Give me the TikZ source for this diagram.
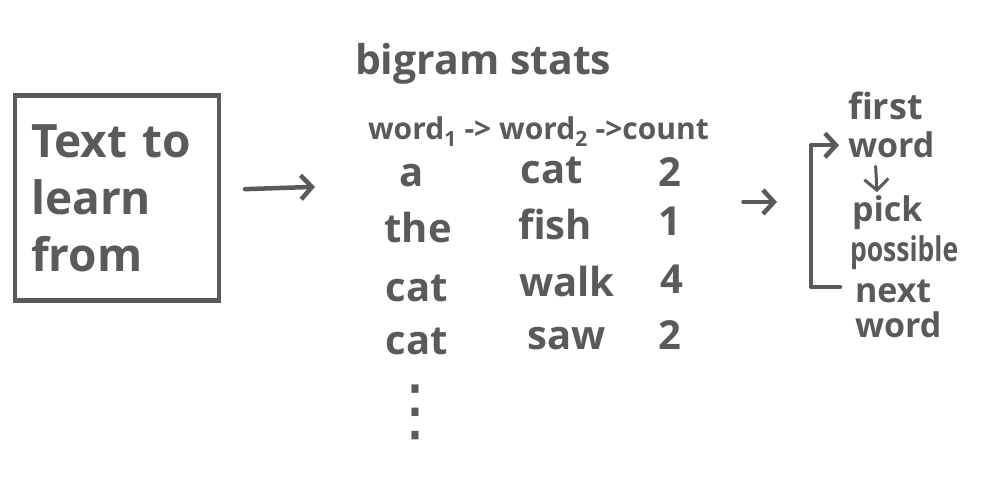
\documentclass[tikz,border=0pt]{standalone}
\usepackage{fontspec}
\setmainfont{Open Sans}
\newfontfamily\symfont{DejaVu Sans}
\usepackage{xcolor}
\usepackage{tikz}
\usetikzlibrary{arrows.meta}
\tikzset{arrow/.style = {-{Straight Barb[length = 11pt, width = 24pt]}, line width = 4.5pt, line cap = round, line join = round}}
\tikzset{hand/.style = {text=drawColor, inner sep=0pt, outer sep=0pt, font=\bfseries}}
\usetikzlibrary{positioning}
\usetikzlibrary{calc}

\begin{document}
\begin{tikzpicture}[x=1pt,y=1pt]
\definecolor{fillColor}{RGB}{255,255,255}
\definecolor{drawColor}{RGB}{90,90,90}
\path[use as bounding box,fill=fillColor] (0,0) rectangle (1000,500);

% input text
\node[hand, draw=drawColor, line width=4.5pt, minimum width=204, minimum height=205,
  text width=172, align=left, font=\bfseries\fontsize{46}{57}\selectfont] (box) at (117,302) {Text to\\learn\\from};

% bigram table
\node[hand, anchor=base west, font=\bfseries\fontsize{41}{48}\selectfont] (title) at (355,425) {bigram stats};
\node[hand, anchor=base west, font=\bfseries\fontsize{30}{36}\selectfont] (header) at (368,360) {word\textsubscript{1} -> word\textsubscript{2} ->count};

\node[hand, anchor=base, font=\bfseries\fontsize{40}{48}\selectfont] (r1a) at (412,313) {a};
\node[hand, anchor=base, font=\bfseries\fontsize{40}{48}\selectfont] (r1b) at (552,316) {cat};
\node[hand, anchor=base, font=\bfseries\fontsize{40}{48}\selectfont] (r1c) at (670,313) {2};

\node[hand, anchor=base, font=\bfseries\fontsize{40}{48}\selectfont] (r2a) at (418,257) {the};
\node[hand, anchor=base, font=\bfseries\fontsize{40}{48}\selectfont] (r2b) at (555,260) {fish};
\node[hand, anchor=base, font=\bfseries\fontsize{40}{48}\selectfont] (r2c) at (670,264) {1};

\node[hand, anchor=base, font=\bfseries\fontsize{40}{48}\selectfont] (r3a) at (417,198) {cat};
\node[hand, anchor=base, font=\bfseries\fontsize{40}{48}\selectfont] (r3b) at (567,203) {walk};
\node[hand, anchor=base, font=\bfseries\fontsize{40}{48}\selectfont] (r3c) at (672,206) {4};

\node[hand, anchor=base, font=\bfseries\fontsize{40}{48}\selectfont] (r4a) at (417,145) {cat};
\node[hand, anchor=base, font=\bfseries\fontsize{40}{48}\selectfont] (r4b) at (567,150) {saw};
\node[hand, anchor=base, font=\bfseries\fontsize{40}{48}\selectfont] (r4c) at (670,150) {2};

\node[hand, font=\symfont\fontsize{68}{68}\selectfont] (more) at (415,88) {⋮};

% generation loop
\node[hand, anchor=base west, font=\bfseries\fontsize{36}{40}\selectfont] (first) at (848,380) {first};
\node[hand, anchor=base west, font=\bfseries\fontsize{34}{40}\selectfont] (fw) at (848,342) {word};
\node[hand, anchor=base west, font=\bfseries\fontsize{34}{40}\selectfont] (pick) at (852,278) {pick};
\node[hand, anchor=base west, font=\bfseries\fontsize{34}{40}\selectfont, xscale=0.78] (possible) at (850,238) {possible};
\node[hand, anchor=base west, font=\bfseries\fontsize{34}{40}\selectfont] (next) at (855,197) {next};
\node[hand, anchor=base west, font=\bfseries\fontsize{34}{40}\selectfont] (nw) at (855,162) {word};
\coordinate (loop) at (811,298);

\draw[arrow, draw=drawColor, shorten <=26pt, shorten >=85pt] ([yshift=8pt]box.east) -- ([yshift=-8pt]r1a.west);
\draw[arrow, draw=drawColor, shorten <=62pt, shorten >=34pt] (r1c.east |- loop) -- (loop);
\draw[arrow, draw=drawColor] ([xshift=-15pt,yshift=5pt]next.west) -- ++(-29,0) |- ([xshift=-9pt]fw.west);
\draw[arrow, draw=drawColor, line width=3pt, shorten <=8pt, shorten >=4pt] ([xshift=-16pt]fw.south) -- ([xshift=-10pt]pick.north);
\end{tikzpicture}
\end{document}
